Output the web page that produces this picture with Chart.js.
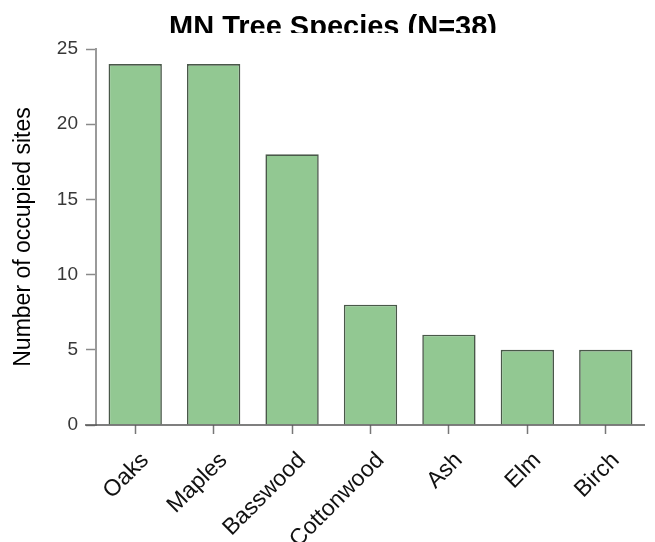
<!DOCTYPE html>
<html>
<head>
<meta charset="utf-8">
<title>MN Tree Species</title>
<script src="https://cdn.jsdelivr.net/npm/chart.js@4"></script>
<style>
    html, body { margin: 0; padding: 0; background: #fff; }
    #wrap { width: 655px; height: 542px; }
</style>
</head>
<body>
<div id="wrap"><canvas id="treeChart" width="655" height="542"></canvas></div>
<script>
// Species counts (number of occupied sites)
const species = ["Oaks", "Maples", "Basswood", "Cottonwood", "Ash", "Elm", "Birch"];
const occupiedSites = [24, 24, 18, 8, 6, 5, 5];
const yTicks = [0, 5, 10, 15, 20, 25];

const chartTitle = "MN Tree Species (N=38)";
const yTitle = "Number of occupied sites";

// Title drawn by hand so the band under its baseline stays cut off
const titlePlugin = {
    id: "clippedTitle",
    afterDraw(chart) {
        const ctx = chart.ctx;
        ctx.save();
        ctx.beginPath();
        ctx.rect(0, 0, chart.width, 33);
        ctx.clip();
        ctx.font = "bold 29px 'Liberation Sans', Arial, sans-serif";
        ctx.fillStyle = "#000";
        ctx.textAlign = "center";
        ctx.textBaseline = "alphabetic";
        ctx.fillText(chartTitle, 333, 36);
        ctx.restore();
    }
};

// Baseline of the x axis, running a little past the y axis on the left
const baselinePlugin = {
    id: "baseline",
    afterDatasetsDraw(chart) {
        const ctx = chart.ctx;
        const area = chart.chartArea;
        const y0 = chart.scales.y.getPixelForValue(0);
        ctx.save();
        ctx.strokeStyle = "#555";
        ctx.lineWidth = 1.5;
        ctx.beginPath();
        ctx.moveTo(area.left - 11, y0);
        ctx.lineTo(area.right, y0);
        ctx.stroke();
        ctx.restore();
    }
};

new Chart(document.getElementById("treeChart"), {
    type: "bar",
    data: {
        labels: species,
        datasets: [{
            data: occupiedSites,
            backgroundColor: "#92c892",
            borderColor: "#495849",
            borderWidth: 1.6,
            categoryPercentage: 1,
            barPercentage: 0.68
        }]
    },
    options: {
        responsive: false,
        animation: false,
        devicePixelRatio: 1,
        layout: { padding: { top: 49, right: 10, bottom: 0, left: 0 } },
        plugins: {
            legend: { display: false },
            title: { display: false },
            tooltip: { enabled: false }
        },
        scales: {
            x: {
                afterFit(scale) { scale.height = 117; },
                border: { display: false },
                grid: {
                    drawOnChartArea: false,
                    offset: false,
                    tickLength: 9,
                    tickWidth: 1.5,
                    tickColor: "#777"
                },
                ticks: {
                    maxRotation: 45,
                    minRotation: 45,
                    padding: 13,
                    labelOffset: 10,
                    color: "#111",
                    font: { family: "'Liberation Sans', Arial, sans-serif", size: 23 }
                }
            },
            y: {
                min: 0,
                max: 25,
                afterFit(scale) { scale.width = 96; },
                afterBuildTicks(scale) { scale.ticks = yTicks.map(v => ({ value: v })); },
                border: { display: true, color: "#9a9a9a", width: 2 },
                grid: {
                    drawOnChartArea: false,
                    tickLength: 10,
                    tickWidth: 1.5,
                    tickColor: "#8a8a8a"
                },
                ticks: {
                    padding: 8,
                    color: "#383838",
                    font: { family: "'Liberation Sans', Arial, sans-serif", size: 19 }
                },
                title: {
                    display: true,
                    text: yTitle,
                    color: "#000",
                    padding: { top: 10, bottom: 0 },
                    font: { family: "'Liberation Sans', Arial, sans-serif", size: 23 }
                }
            }
        }
    },
    plugins: [titlePlugin, baselinePlugin]
});
</script>
</body>
</html>
